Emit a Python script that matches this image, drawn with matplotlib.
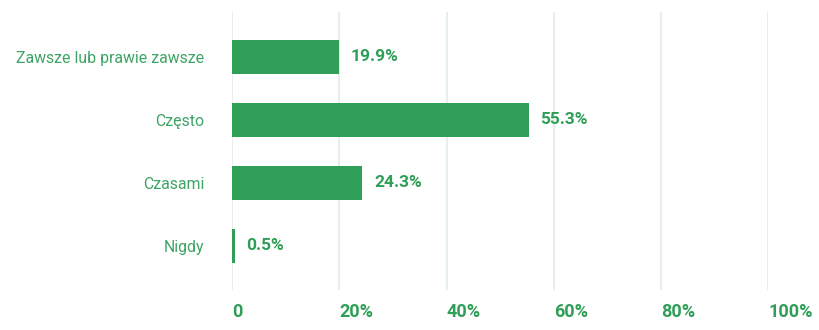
import numpy as np
import matplotlib.pyplot as plt

### Data ###
categories = ['Zawsze lub prawie zawsze', 'Często', 'Czasami', 'Nigdy']
values = [19.9, 55.3, 24.3, 0.5]
x_ticks = [0, 20, 40, 60, 80, 100]
x_tick_labels = ['0', '20%', '40%', '60%', '80%', '100%']

### Style ###
BAR_COLOR = '#2f9e57'
TEXT_COLOR = '#2f9e57'
LABEL_COLOR = '#3ea466'
GRID_COLOR = '#e2ede6'
plt.rcParams['font.family'] = ['Roboto', 'DejaVu Sans']

fig = plt.figure(figsize=(8.2, 3.3), dpi=100)
ax = fig.add_axes([0.283, 0.121, 0.654, 0.843])

y = np.arange(len(categories))
ax.barh(y, values, height=0.54, color=BAR_COLOR, zorder=2)

for yi, v in zip(y, values):
    ax.annotate(f'{v}%', (v, yi), xytext=(8.5, 0), textcoords='offset points',
                ha='left', va='center', fontsize=12.5, fontweight='bold',
                color=TEXT_COLOR)

ax.set_xlim(0, 100)
ax.set_ylim(3.7, -0.71)
ax.set_xticks(x_ticks)
ax.set_xticklabels(x_tick_labels, ha='left', fontsize=13,
                   fontweight='bold', color=TEXT_COLOR)
ax.set_yticks(y)
ax.set_yticklabels(categories, fontsize=11.4, color=LABEL_COLOR)
ax.tick_params(axis='both', length=0)
ax.tick_params(axis='x', pad=9)
ax.tick_params(axis='y', pad=20)
ax.grid(axis='x', color=GRID_COLOR, linewidth=1.2, zorder=0)
ax.set_axisbelow(True)
for s in ax.spines.values():
    s.set_visible(False)

fig.savefig('out.png', dpi=100)
